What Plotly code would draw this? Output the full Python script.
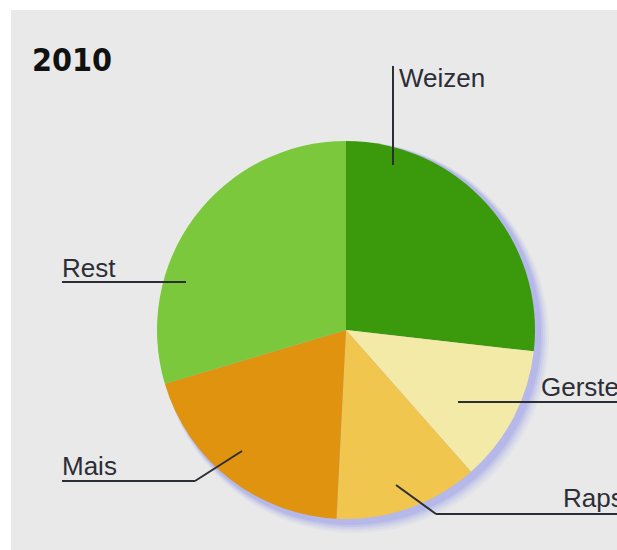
import plotly.graph_objects as go

# Data
categories = ["Weizen", "Gerste", "Raps", "Mais", "Rest"]
shares = [26.8, 11.7, 12.3, 19.6, 29.6]
colors = ["#3a9a0c", "#f4eaa8", "#f0c64e", "#e0930e", "#7cc83c"]
title_text = "2010"

W, H = 617, 550
CX, CY, R = 346, 330, 189

def px(x):
    return x / W

def py(y):
    return 1 - y / H

fig = go.Figure()
fig.add_trace(go.Pie(
    labels=categories, values=shares, sort=False, direction="clockwise",
    rotation=0, marker=dict(colors=colors, line=dict(width=0)),
    textinfo="none", hoverinfo="label+percent", showlegend=False,
    domain=dict(x=[px(CX - R), px(CX + R)], y=[py(CY + R), py(CY - R)]),
))

shapes = []
# gray panel
shapes.append(dict(type="rect", xref="paper", yref="paper", x0=px(11), x1=1.02, y0=-0.02, y1=py(10),
                   fillcolor="#e9e9e9", line=dict(width=0), layer="below"))
# soft bluish shadow
for k, op in [(11, 0.06), (9, 0.08), (7, 0.10), (5, 0.14), (3, 0.18)]:
    shapes.append(dict(type="circle", xref="paper", yref="paper",
                       x0=px(CX - R + 3), x1=px(CX + R + 3 + k),
                       y0=py(CY + R + 3 + k), y1=py(CY - R + 1),
                       fillcolor="#7a80e8", opacity=op, line=dict(width=0), layer="below"))

line_col = "#2c2e36"
def seg(x0, y0, x1, y1):
    shapes.append(dict(type="line", xref="paper", yref="paper",
                       x0=px(x0), y0=py(y0), x1=px(x1), y1=py(y1),
                       line=dict(color=line_col, width=2), layer="above"))

# leader lines
seg(393, 66, 393, 165)          # Weizen
seg(458, 402, 620, 402)         # Gerste
seg(396, 485, 436, 514)         # Raps diag
seg(436, 514, 620, 514)         # Raps horiz
seg(62, 282, 186, 282)          # Rest
seg(62, 481, 195, 481)          # Mais horiz
seg(195, 481, 242, 451)         # Mais diag
fig.update_layout(shapes=shapes)

label_font = dict(family="Liberation Sans, Arial, sans-serif", size=26, color="#2c2e36")
labels_pos = {
    "Weizen": (397, 78),
    "Gerste": (539, 387),
    "Raps": (561, 498),
    "Rest": (60, 268),
    "Mais": (60, 466),
}
ann = []
for name in categories:
    x, y = labels_pos[name]
    ann.append(dict(text=name, x=px(x), y=py(y), xref="paper", yref="paper",
                    xanchor="left", yanchor="middle", showarrow=False, font=label_font))
ann.append(dict(text="<b>" + title_text + "</b>", x=px(30), y=py(60), xref="paper", yref="paper",
                xanchor="left", yanchor="middle", showarrow=False,
                font=dict(family="Liberation Sans Narrow, DejaVu Sans Condensed, sans-serif", size=32, color="#111111")))
fig.update_layout(annotations=ann)

fig.update_layout(width=W, height=H, margin=dict(l=0, r=0, t=0, b=0),
                  paper_bgcolor="#ffffff", plot_bgcolor="#ffffff")
fig.write_html("out.html")
